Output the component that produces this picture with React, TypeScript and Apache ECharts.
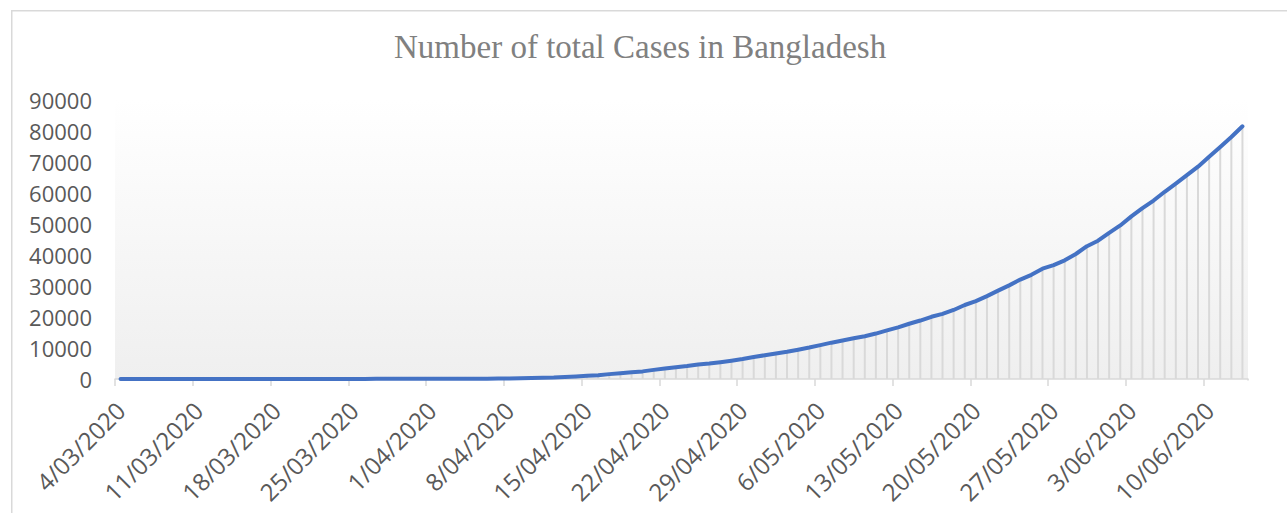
import React, { useEffect, useRef } from "react";
import * as echarts from "echarts";

const titleText = "Number of total Cases in Bangladesh";

const dates = [
  "4/03/2020", "5/03/2020", "6/03/2020", "7/03/2020", "8/03/2020", "9/03/2020", "10/03/2020",
  "11/03/2020", "12/03/2020", "13/03/2020", "14/03/2020", "15/03/2020", "16/03/2020", "17/03/2020",
  "18/03/2020", "19/03/2020", "20/03/2020", "21/03/2020", "22/03/2020", "23/03/2020", "24/03/2020",
  "25/03/2020", "26/03/2020", "27/03/2020", "28/03/2020", "29/03/2020", "30/03/2020", "31/03/2020",
  "1/04/2020", "2/04/2020", "3/04/2020", "4/04/2020", "5/04/2020", "6/04/2020", "7/04/2020",
  "8/04/2020", "9/04/2020", "10/04/2020", "11/04/2020", "12/04/2020", "13/04/2020", "14/04/2020",
  "15/04/2020", "16/04/2020", "17/04/2020", "18/04/2020", "19/04/2020", "20/04/2020", "21/04/2020",
  "22/04/2020", "23/04/2020", "24/04/2020", "25/04/2020", "26/04/2020", "27/04/2020", "28/04/2020",
  "29/04/2020", "30/04/2020", "1/05/2020", "2/05/2020", "3/05/2020", "4/05/2020", "5/05/2020",
  "6/05/2020", "7/05/2020", "8/05/2020", "9/05/2020", "10/05/2020", "11/05/2020", "12/05/2020",
  "13/05/2020", "14/05/2020", "15/05/2020", "16/05/2020", "17/05/2020", "18/05/2020", "19/05/2020",
  "20/05/2020", "21/05/2020", "22/05/2020", "23/05/2020", "24/05/2020", "25/05/2020", "26/05/2020",
  "27/05/2020", "28/05/2020", "29/05/2020", "30/05/2020", "31/05/2020", "1/06/2020", "2/06/2020",
  "3/06/2020", "4/06/2020", "5/06/2020", "6/06/2020", "7/06/2020", "8/06/2020", "9/06/2020",
  "10/06/2020", "11/06/2020", "12/06/2020", "13/06/2020",
];

const totalCases = [
  0, 0, 0, 0, 0, 3, 3,
  3, 3, 3, 3, 3, 5, 8,
  10, 14, 17, 20, 24, 27, 33,
  39, 39, 44, 48, 48, 48, 49,
  51, 54, 56, 61, 70, 88, 123,
  164, 218, 330, 424, 482, 621, 803,
  1012, 1231, 1572, 1838, 2144, 2456, 2948,
  3382, 3772, 4186, 4689, 4998, 5416, 5913,
  6462, 7103, 7667, 8238, 8790, 9455, 10143,
  10929, 11719, 12425, 13134, 13770, 14657, 15691,
  16660, 17822, 18863, 20065, 20995, 22268, 23870,
  25121, 26738, 28511, 30205, 32078, 33610, 35585,
  36751, 38292, 40321, 42844, 44608, 47153, 49534,
  52445, 55140, 57563, 60391, 63026, 65769, 68504,
  71675, 74865, 78052, 81523,
];

const yMin = 0;
const yMax = 90000;
const yStep = 10000;

export default function App() {
  const ref = useRef<HTMLDivElement>(null);

  useEffect(() => {
    if (!ref.current) return;
    const chart = echarts.init(ref.current, undefined, { renderer: "svg" });
    const labelFont = "'Open Sans', sans-serif";
    chart.setOption({
      animation: false,
      backgroundColor: "#ffffff",
      title: {
        text: titleText,
        left: 389,
        top: 25,
        textStyle: {
          fontFamily: "'Liberation Serif', serif",
          fontSize: 33,
          fontWeight: "normal",
          color: "#808080",
        },
      },
      graphic: [
        {
          type: "rect",
          shape: { x: 11.75, y: 10.75, width: 1400, height: 700 },
          style: { fill: "none", stroke: "#d9d9d9", lineWidth: 1.5 },
          silent: true,
          z: -1,
        },
        {
          // hides the extra end-of-axis tick that the reference does not have
          type: "rect",
          shape: { x: 1244, y: 380.5, width: 10, height: 9 },
          style: { fill: "#ffffff" },
          silent: true,
          z: 100,
        },
      ],
      grid: {
        left: 115,
        top: 100,
        width: 1133,
        height: 279,
        show: true,
        borderWidth: 0,
        backgroundColor: new echarts.graphic.LinearGradient(0, 0, 0, 1, [
          { offset: 0, color: "#ffffff" },
          { offset: 1, color: "#efefef" },
        ]),
      },
      xAxis: {
        type: "category",
        data: dates,
        boundaryGap: true,
        axisLine: { show: true, lineStyle: { color: "#d9d9d9", width: 1.5 } },
        axisTick: {
          show: true,
          interval: 6,
          length: 7,
          lineStyle: { color: "#d9d9d9", width: 1.5 },
        },
        axisLabel: {
          interval: 6,
          rotate: 45,
          margin: 27,
          color: "#595959",
          fontFamily: labelFont,
          fontSize: 24,
        },
        splitLine: { show: false },
      },
      yAxis: {
        type: "value",
        min: yMin,
        max: yMax,
        interval: yStep,
        axisLine: { show: false },
        axisTick: { show: false },
        splitLine: { show: false },
        axisLabel: {
          margin: 23,
          color: "#595959",
          fontFamily: labelFont,
          fontSize: 22,
          formatter: (v: number) => String(v),
        },
      },
      series: [
        {
          type: "bar",
          data: totalCases,
          barWidth: 2,
          itemStyle: { color: "#d9d9d9" },
          silent: true,
          z: 1,
        },
        {
          type: "line",
          data: totalCases,
          showSymbol: false,
          symbol: "none",
          lineStyle: { color: "#4472c4", width: 4, cap: "round", join: "round" },
          z: 3,
        },
      ],
    });
    return () => chart.dispose();
  }, []);

  return (
    <div
      ref={ref}
      style={{ position: "fixed", left: 0, top: 0, width: 1287, height: 513 }}
    />
  );
}
